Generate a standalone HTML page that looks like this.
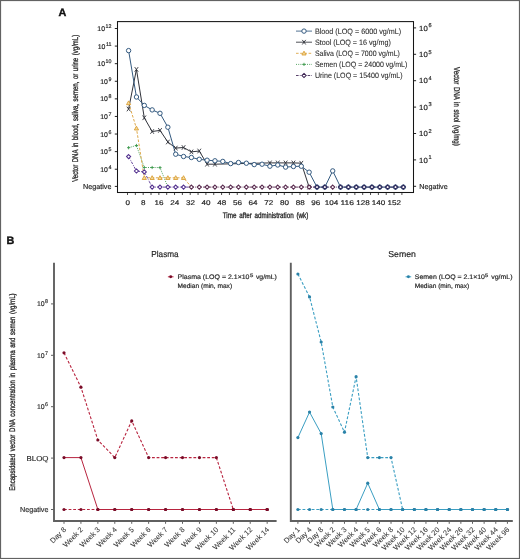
<!DOCTYPE html><html><head><meta charset="utf-8"><style>html,body{margin:0;padding:0;background:#fff;}svg{display:block;}text{font-family:"Liberation Sans", sans-serif;text-rendering:geometricPrecision;} .t{filter:grayscale(1);} .t text{stroke:#2a2a2a;stroke-width:0.18px;}</style></head><body>
<svg width="520" height="559" viewBox="0 0 520 559">
<rect x="0" y="0" width="520" height="559" fill="#fff"/>
<line x1="114.8" y1="28.5" x2="117.5" y2="28.5" stroke="#222" stroke-width="1"/>
<line x1="114.8" y1="46.09" x2="117.5" y2="46.09" stroke="#222" stroke-width="1"/>
<line x1="114.8" y1="63.68" x2="117.5" y2="63.68" stroke="#222" stroke-width="1"/>
<line x1="114.8" y1="81.27" x2="117.5" y2="81.27" stroke="#222" stroke-width="1"/>
<line x1="114.8" y1="98.86" x2="117.5" y2="98.86" stroke="#222" stroke-width="1"/>
<line x1="114.8" y1="116.45" x2="117.5" y2="116.45" stroke="#222" stroke-width="1"/>
<line x1="114.8" y1="134.04" x2="117.5" y2="134.04" stroke="#222" stroke-width="1"/>
<line x1="114.8" y1="151.63" x2="117.5" y2="151.63" stroke="#222" stroke-width="1"/>
<line x1="114.8" y1="169.22" x2="117.5" y2="169.22" stroke="#222" stroke-width="1"/>
<line x1="114.8" y1="186.4" x2="117.5" y2="186.4" stroke="#222" stroke-width="1"/>
<line x1="413.5" y1="27.9" x2="416.1" y2="27.9" stroke="#222" stroke-width="1"/>
<line x1="413.5" y1="54.3" x2="416.1" y2="54.3" stroke="#222" stroke-width="1"/>
<line x1="413.5" y1="80.7" x2="416.1" y2="80.7" stroke="#222" stroke-width="1"/>
<line x1="413.5" y1="107.1" x2="416.1" y2="107.1" stroke="#222" stroke-width="1"/>
<line x1="413.5" y1="133.5" x2="416.1" y2="133.5" stroke="#222" stroke-width="1"/>
<line x1="413.5" y1="159.9" x2="416.1" y2="159.9" stroke="#222" stroke-width="1"/>
<line x1="413.5" y1="186.3" x2="416.1" y2="186.3" stroke="#222" stroke-width="1"/>
<line x1="127.5" y1="192.5" x2="127.5" y2="195" stroke="#222" stroke-width="0.8"/>
<line x1="135.34" y1="192.5" x2="135.34" y2="195" stroke="#222" stroke-width="0.8"/>
<line x1="143.18" y1="192.5" x2="143.18" y2="195" stroke="#222" stroke-width="0.8"/>
<line x1="151.02" y1="192.5" x2="151.02" y2="195" stroke="#222" stroke-width="0.8"/>
<line x1="158.86" y1="192.5" x2="158.86" y2="195" stroke="#222" stroke-width="0.8"/>
<line x1="166.7" y1="192.5" x2="166.7" y2="195" stroke="#222" stroke-width="0.8"/>
<line x1="174.54" y1="192.5" x2="174.54" y2="195" stroke="#222" stroke-width="0.8"/>
<line x1="182.38" y1="192.5" x2="182.38" y2="195" stroke="#222" stroke-width="0.8"/>
<line x1="190.22" y1="192.5" x2="190.22" y2="195" stroke="#222" stroke-width="0.8"/>
<line x1="198.06" y1="192.5" x2="198.06" y2="195" stroke="#222" stroke-width="0.8"/>
<line x1="205.9" y1="192.5" x2="205.9" y2="195" stroke="#222" stroke-width="0.8"/>
<line x1="213.74" y1="192.5" x2="213.74" y2="195" stroke="#222" stroke-width="0.8"/>
<line x1="221.58" y1="192.5" x2="221.58" y2="195" stroke="#222" stroke-width="0.8"/>
<line x1="229.42" y1="192.5" x2="229.42" y2="195" stroke="#222" stroke-width="0.8"/>
<line x1="237.26" y1="192.5" x2="237.26" y2="195" stroke="#222" stroke-width="0.8"/>
<line x1="245.1" y1="192.5" x2="245.1" y2="195" stroke="#222" stroke-width="0.8"/>
<line x1="252.94" y1="192.5" x2="252.94" y2="195" stroke="#222" stroke-width="0.8"/>
<line x1="260.78" y1="192.5" x2="260.78" y2="195" stroke="#222" stroke-width="0.8"/>
<line x1="268.62" y1="192.5" x2="268.62" y2="195" stroke="#222" stroke-width="0.8"/>
<line x1="276.46" y1="192.5" x2="276.46" y2="195" stroke="#222" stroke-width="0.8"/>
<line x1="284.3" y1="192.5" x2="284.3" y2="195" stroke="#222" stroke-width="0.8"/>
<line x1="292.14" y1="192.5" x2="292.14" y2="195" stroke="#222" stroke-width="0.8"/>
<line x1="299.98" y1="192.5" x2="299.98" y2="195" stroke="#222" stroke-width="0.8"/>
<line x1="307.82" y1="192.5" x2="307.82" y2="195" stroke="#222" stroke-width="0.8"/>
<line x1="315.66" y1="192.5" x2="315.66" y2="195" stroke="#222" stroke-width="0.8"/>
<line x1="323.5" y1="192.5" x2="323.5" y2="195" stroke="#222" stroke-width="0.8"/>
<line x1="331.34" y1="192.5" x2="331.34" y2="195" stroke="#222" stroke-width="0.8"/>
<line x1="339.18" y1="192.5" x2="339.18" y2="195" stroke="#222" stroke-width="0.8"/>
<line x1="347.02" y1="192.5" x2="347.02" y2="195" stroke="#222" stroke-width="0.8"/>
<line x1="354.86" y1="192.5" x2="354.86" y2="195" stroke="#222" stroke-width="0.8"/>
<line x1="362.7" y1="192.5" x2="362.7" y2="195" stroke="#222" stroke-width="0.8"/>
<line x1="370.54" y1="192.5" x2="370.54" y2="195" stroke="#222" stroke-width="0.8"/>
<line x1="378.38" y1="192.5" x2="378.38" y2="195" stroke="#222" stroke-width="0.8"/>
<line x1="386.22" y1="192.5" x2="386.22" y2="195" stroke="#222" stroke-width="0.8"/>
<line x1="394.06" y1="192.5" x2="394.06" y2="195" stroke="#222" stroke-width="0.8"/>
<line x1="401.9" y1="192.5" x2="401.9" y2="195" stroke="#222" stroke-width="0.8"/>
<g fill="none" stroke-linejoin="round">
<polyline points="128.6,147.7 136.45,145.5 144.3,167.5 152.15,167.5 160,167.6 167.85,187.1" stroke="#3c984c" stroke-width="0.9" stroke-dasharray="1,1.2"/>
<polyline points="128.6,103 136.45,128.3 144.3,177.8 152.15,177.8 160,177.8 167.85,177.8 175.7,177.8 183.55,177.8 191.4,187.1" stroke="#d99e35" stroke-width="0.9" stroke-dasharray="2.6,1.6"/>
<polyline points="128.6,109 136.45,69.4 144.3,117.8 152.15,131.5 160,130.4 167.85,142 175.7,148.1 183.55,147.5 191.4,151.9 199.25,151 207.1,164.2 214.95,164.2 269.9,162.9 277.75,162.9 285.6,162.9 293.45,162.9 301.3,163.2 309.15,187.1" stroke="#30323a" stroke-width="1"/>
<polyline points="128.6,50.6 136.45,97 144.3,105.4 152.15,109.9 160,113.3 167.85,127.2 175.7,154.2 183.55,156.5 191.4,157.5 199.25,159.3 207.1,160.2 214.95,160.8 222.8,161.4 230.65,163.6 238.5,162.5 246.35,163.2 254.2,164.6 262.05,164.2 269.9,166.2 277.75,165 285.6,167.1 293.45,166.5 301.3,166.2 309.15,172.2 317,187.1 324.85,187.1 332.7,170.9 340.55,187.1 348.4,187.1 356.25,187.1 364.1,187.1 371.95,187.1 379.8,187.1 387.65,187.1 395.5,187.1 403.35,187.1" stroke="#345a80" stroke-width="1.0"/>
</g>
<path d="M127 147.7L130.2 147.7M128.6 146.1L128.6 149.3" stroke="#3c984c" stroke-width="0.9" fill="none"/>
<path d="M134.85 145.5L138.05 145.5M136.45 143.9L136.45 147.1" stroke="#3c984c" stroke-width="0.9" fill="none"/>
<path d="M142.7 167.5L145.9 167.5M144.3 165.9L144.3 169.1" stroke="#3c984c" stroke-width="0.9" fill="none"/>
<path d="M150.55 167.5L153.75 167.5M152.15 165.9L152.15 169.1" stroke="#3c984c" stroke-width="0.9" fill="none"/>
<path d="M158.4 167.6L161.6 167.6M160 166L160 169.2" stroke="#3c984c" stroke-width="0.9" fill="none"/>
<path d="M128.6 100.9L130.7 104.68L126.5 104.68Z" fill="#f6dc9c" stroke="#d99e35" stroke-width="0.9"/>
<path d="M136.45 126.2L138.55 129.98L134.35 129.98Z" fill="#f6dc9c" stroke="#d99e35" stroke-width="0.9"/>
<path d="M144.3 175.7L146.4 179.48L142.2 179.48Z" fill="#f6dc9c" stroke="#d99e35" stroke-width="0.9"/>
<path d="M152.15 175.7L154.25 179.48L150.05 179.48Z" fill="#f6dc9c" stroke="#d99e35" stroke-width="0.9"/>
<path d="M160 175.7L162.1 179.48L157.9 179.48Z" fill="#f6dc9c" stroke="#d99e35" stroke-width="0.9"/>
<path d="M167.85 175.7L169.95 179.48L165.75 179.48Z" fill="#f6dc9c" stroke="#d99e35" stroke-width="0.9"/>
<path d="M175.7 175.7L177.8 179.48L173.6 179.48Z" fill="#f6dc9c" stroke="#d99e35" stroke-width="0.9"/>
<path d="M183.55 175.7L185.65 179.48L181.45 179.48Z" fill="#f6dc9c" stroke="#d99e35" stroke-width="0.9"/>
<path d="M126.85 106.7L130.35 111.3M126.85 111.3L130.35 106.7" stroke="#30323a" stroke-width="0.9" fill="none"/>
<path d="M134.7 67.1L138.2 71.7M134.7 71.7L138.2 67.1" stroke="#30323a" stroke-width="0.9" fill="none"/>
<path d="M142.55 115.5L146.05 120.1M142.55 120.1L146.05 115.5" stroke="#30323a" stroke-width="0.9" fill="none"/>
<path d="M150.4 129.2L153.9 133.8M150.4 133.8L153.9 129.2" stroke="#30323a" stroke-width="0.9" fill="none"/>
<path d="M158.25 128.1L161.75 132.7M158.25 132.7L161.75 128.1" stroke="#30323a" stroke-width="0.9" fill="none"/>
<path d="M166.1 139.7L169.6 144.3M166.1 144.3L169.6 139.7" stroke="#30323a" stroke-width="0.9" fill="none"/>
<path d="M173.95 145.8L177.45 150.4M173.95 150.4L177.45 145.8" stroke="#30323a" stroke-width="0.9" fill="none"/>
<path d="M181.8 145.2L185.3 149.8M181.8 149.8L185.3 145.2" stroke="#30323a" stroke-width="0.9" fill="none"/>
<path d="M189.65 149.6L193.15 154.2M189.65 154.2L193.15 149.6" stroke="#30323a" stroke-width="0.9" fill="none"/>
<path d="M197.5 148.7L201 153.3M197.5 153.3L201 148.7" stroke="#30323a" stroke-width="0.9" fill="none"/>
<path d="M205.35 161.9L208.85 166.5M205.35 166.5L208.85 161.9" stroke="#30323a" stroke-width="0.9" fill="none"/>
<path d="M213.2 161.9L216.7 166.5M213.2 166.5L216.7 161.9" stroke="#30323a" stroke-width="0.9" fill="none"/>
<path d="M268.15 160.6L271.65 165.2M268.15 165.2L271.65 160.6" stroke="#30323a" stroke-width="0.9" fill="none"/>
<path d="M276 160.6L279.5 165.2M276 165.2L279.5 160.6" stroke="#30323a" stroke-width="0.9" fill="none"/>
<path d="M283.85 160.6L287.35 165.2M283.85 165.2L287.35 160.6" stroke="#30323a" stroke-width="0.9" fill="none"/>
<path d="M291.7 160.6L295.2 165.2M291.7 165.2L295.2 160.6" stroke="#30323a" stroke-width="0.9" fill="none"/>
<path d="M299.55 160.9L303.05 165.5M299.55 165.5L303.05 160.9" stroke="#30323a" stroke-width="0.9" fill="none"/>
<path d="M307.4 184.8L310.9 189.4M307.4 189.4L310.9 184.8" stroke="#30323a" stroke-width="0.9" fill="none"/>
<circle cx="128.6" cy="50.6" r="2.2" fill="#fff" stroke="#345a80" stroke-width="1.0"/>
<circle cx="136.45" cy="97" r="2.2" fill="#fff" stroke="#345a80" stroke-width="1.0"/>
<circle cx="144.3" cy="105.4" r="2.2" fill="#fff" stroke="#345a80" stroke-width="1.0"/>
<circle cx="152.15" cy="109.9" r="2.2" fill="#fff" stroke="#345a80" stroke-width="1.0"/>
<circle cx="160" cy="113.3" r="2.2" fill="#fff" stroke="#345a80" stroke-width="1.0"/>
<circle cx="167.85" cy="127.2" r="2.2" fill="#fff" stroke="#345a80" stroke-width="1.0"/>
<circle cx="175.7" cy="154.2" r="2.2" fill="#fff" stroke="#345a80" stroke-width="1.0"/>
<circle cx="183.55" cy="156.5" r="2.2" fill="#fff" stroke="#345a80" stroke-width="1.0"/>
<circle cx="191.4" cy="157.5" r="2.2" fill="#fff" stroke="#345a80" stroke-width="1.0"/>
<circle cx="199.25" cy="159.3" r="2.2" fill="#fff" stroke="#345a80" stroke-width="1.0"/>
<circle cx="207.1" cy="160.2" r="2.2" fill="#fff" stroke="#345a80" stroke-width="1.0"/>
<circle cx="214.95" cy="160.8" r="2.2" fill="#fff" stroke="#345a80" stroke-width="1.0"/>
<circle cx="222.8" cy="161.4" r="2.2" fill="#fff" stroke="#345a80" stroke-width="1.0"/>
<circle cx="230.65" cy="163.6" r="2.2" fill="#fff" stroke="#345a80" stroke-width="1.0"/>
<circle cx="238.5" cy="162.5" r="2.2" fill="#fff" stroke="#345a80" stroke-width="1.0"/>
<circle cx="246.35" cy="163.2" r="2.2" fill="#fff" stroke="#345a80" stroke-width="1.0"/>
<circle cx="254.2" cy="164.6" r="2.2" fill="#fff" stroke="#345a80" stroke-width="1.0"/>
<circle cx="262.05" cy="164.2" r="2.2" fill="#fff" stroke="#345a80" stroke-width="1.0"/>
<circle cx="269.9" cy="166.2" r="2.2" fill="#fff" stroke="#345a80" stroke-width="1.0"/>
<circle cx="277.75" cy="165" r="2.2" fill="#fff" stroke="#345a80" stroke-width="1.0"/>
<circle cx="285.6" cy="167.1" r="2.2" fill="#fff" stroke="#345a80" stroke-width="1.0"/>
<circle cx="293.45" cy="166.5" r="2.2" fill="#fff" stroke="#345a80" stroke-width="1.0"/>
<circle cx="301.3" cy="166.2" r="2.2" fill="#fff" stroke="#345a80" stroke-width="1.0"/>
<circle cx="309.15" cy="172.2" r="2.2" fill="#fff" stroke="#345a80" stroke-width="1.0"/>
<circle cx="317" cy="187.1" r="2.2" fill="#fff" stroke="#345a80" stroke-width="1.0"/>
<circle cx="324.85" cy="187.1" r="2.2" fill="#fff" stroke="#345a80" stroke-width="1.0"/>
<circle cx="332.7" cy="170.9" r="2.2" fill="#fff" stroke="#345a80" stroke-width="1.0"/>
<circle cx="340.55" cy="187.1" r="2.2" fill="#fff" stroke="#345a80" stroke-width="1.0"/>
<circle cx="348.4" cy="187.1" r="2.2" fill="#fff" stroke="#345a80" stroke-width="1.0"/>
<circle cx="356.25" cy="187.1" r="2.2" fill="#fff" stroke="#345a80" stroke-width="1.0"/>
<circle cx="364.1" cy="187.1" r="2.2" fill="#fff" stroke="#345a80" stroke-width="1.0"/>
<circle cx="371.95" cy="187.1" r="2.2" fill="#fff" stroke="#345a80" stroke-width="1.0"/>
<circle cx="379.8" cy="187.1" r="2.2" fill="#fff" stroke="#345a80" stroke-width="1.0"/>
<circle cx="387.65" cy="187.1" r="2.2" fill="#fff" stroke="#345a80" stroke-width="1.0"/>
<circle cx="395.5" cy="187.1" r="2.2" fill="#fff" stroke="#345a80" stroke-width="1.0"/>
<circle cx="403.35" cy="187.1" r="2.2" fill="#fff" stroke="#345a80" stroke-width="1.0"/>
<polyline points="128.6,156.6 136.45,171 144.3,171.9 152.15,187.1 160,187.1 167.85,187.1 175.7,187.1 183.55,187.1 191.4,187.1" fill="none" stroke="#52308e" stroke-width="0.9" stroke-dasharray="2.6,1.2,0.8,1.2"/>
<polyline points="191.4,187.1 199.25,187.1 207.1,187.1 214.95,187.1 222.8,187.1 230.65,187.1 238.5,187.1 246.35,187.1 254.2,187.1 262.05,187.1 269.9,187.1 277.75,187.1 285.6,187.1 293.45,187.1 301.3,187.1 309.15,187.1 317,187.1" fill="none" stroke="#5a2c50" stroke-width="0.9" stroke-dasharray="2.6,1.2,0.8,1.2"/>
<polyline points="309.15,187.1 317,187.1 324.85,187.1 332.7,187.1 340.55,187.1 348.4,187.1 356.25,187.1 364.1,187.1 371.95,187.1 379.8,187.1 387.65,187.1 395.5,187.1 403.35,187.1" fill="none" stroke="#2c2458" stroke-width="0.9" stroke-dasharray="2.6,1.2,0.8,1.2"/>
<path d="M128.6 154.55L130.65 156.6L128.6 158.65L126.55 156.6Z" fill="#fff" stroke="#52308e" stroke-width="1.05"/>
<path d="M136.45 168.95L138.5 171L136.45 173.05L134.4 171Z" fill="#fff" stroke="#52308e" stroke-width="1.05"/>
<path d="M144.3 169.85L146.35 171.9L144.3 173.95L142.25 171.9Z" fill="#fff" stroke="#52308e" stroke-width="1.05"/>
<path d="M152.15 185.05L154.2 187.1L152.15 189.15L150.1 187.1Z" fill="#fff" stroke="#52308e" stroke-width="1.05"/>
<path d="M160 185.05L162.05 187.1L160 189.15L157.95 187.1Z" fill="#fff" stroke="#52308e" stroke-width="1.05"/>
<path d="M167.85 185.05L169.9 187.1L167.85 189.15L165.8 187.1Z" fill="#fff" stroke="#52308e" stroke-width="1.05"/>
<path d="M175.7 185.05L177.75 187.1L175.7 189.15L173.65 187.1Z" fill="#fff" stroke="#52308e" stroke-width="1.05"/>
<path d="M183.55 185.05L185.6 187.1L183.55 189.15L181.5 187.1Z" fill="#fff" stroke="#52308e" stroke-width="1.05"/>
<path d="M191.4 185.05L193.45 187.1L191.4 189.15L189.35 187.1Z" fill="#fff" stroke="#5a2c50" stroke-width="1.05"/>
<path d="M199.25 185.05L201.3 187.1L199.25 189.15L197.2 187.1Z" fill="#fff" stroke="#5a2c50" stroke-width="1.05"/>
<path d="M207.1 185.05L209.15 187.1L207.1 189.15L205.05 187.1Z" fill="#fff" stroke="#5a2c50" stroke-width="1.05"/>
<path d="M214.95 185.05L217 187.1L214.95 189.15L212.9 187.1Z" fill="#fff" stroke="#5a2c50" stroke-width="1.05"/>
<path d="M222.8 185.05L224.85 187.1L222.8 189.15L220.75 187.1Z" fill="#fff" stroke="#5a2c50" stroke-width="1.05"/>
<path d="M230.65 185.05L232.7 187.1L230.65 189.15L228.6 187.1Z" fill="#fff" stroke="#5a2c50" stroke-width="1.05"/>
<path d="M238.5 185.05L240.55 187.1L238.5 189.15L236.45 187.1Z" fill="#fff" stroke="#5a2c50" stroke-width="1.05"/>
<path d="M246.35 185.05L248.4 187.1L246.35 189.15L244.3 187.1Z" fill="#fff" stroke="#5a2c50" stroke-width="1.05"/>
<path d="M254.2 185.05L256.25 187.1L254.2 189.15L252.15 187.1Z" fill="#fff" stroke="#5a2c50" stroke-width="1.05"/>
<path d="M262.05 185.05L264.1 187.1L262.05 189.15L260 187.1Z" fill="#fff" stroke="#5a2c50" stroke-width="1.05"/>
<path d="M269.9 185.05L271.95 187.1L269.9 189.15L267.85 187.1Z" fill="#fff" stroke="#5a2c50" stroke-width="1.05"/>
<path d="M277.75 185.05L279.8 187.1L277.75 189.15L275.7 187.1Z" fill="#fff" stroke="#5a2c50" stroke-width="1.05"/>
<path d="M285.6 185.05L287.65 187.1L285.6 189.15L283.55 187.1Z" fill="#fff" stroke="#5a2c50" stroke-width="1.05"/>
<path d="M293.45 185.05L295.5 187.1L293.45 189.15L291.4 187.1Z" fill="#fff" stroke="#5a2c50" stroke-width="1.05"/>
<path d="M301.3 185.05L303.35 187.1L301.3 189.15L299.25 187.1Z" fill="#fff" stroke="#5a2c50" stroke-width="1.05"/>
<path d="M309.15 185.05L311.2 187.1L309.15 189.15L307.1 187.1Z" fill="#fff" stroke="#5a2c50" stroke-width="1.05"/>
<path d="M317 185.05L319.05 187.1L317 189.15L314.95 187.1Z" fill="#fff" stroke="#2c2458" stroke-width="1.05"/>
<path d="M324.85 185.05L326.9 187.1L324.85 189.15L322.8 187.1Z" fill="#fff" stroke="#2c2458" stroke-width="1.05"/>
<path d="M332.7 185.05L334.75 187.1L332.7 189.15L330.65 187.1Z" fill="#fff" stroke="#5a2c50" stroke-width="1.05"/>
<path d="M340.55 185.05L342.6 187.1L340.55 189.15L338.5 187.1Z" fill="#fff" stroke="#2c2458" stroke-width="1.05"/>
<path d="M348.4 185.05L350.45 187.1L348.4 189.15L346.35 187.1Z" fill="#fff" stroke="#2c2458" stroke-width="1.05"/>
<path d="M356.25 185.05L358.3 187.1L356.25 189.15L354.2 187.1Z" fill="#fff" stroke="#2c2458" stroke-width="1.05"/>
<path d="M364.1 185.05L366.15 187.1L364.1 189.15L362.05 187.1Z" fill="#fff" stroke="#2c2458" stroke-width="1.05"/>
<path d="M371.95 185.05L374 187.1L371.95 189.15L369.9 187.1Z" fill="#fff" stroke="#2c2458" stroke-width="1.05"/>
<path d="M379.8 185.05L381.85 187.1L379.8 189.15L377.75 187.1Z" fill="#fff" stroke="#2c2458" stroke-width="1.05"/>
<path d="M387.65 185.05L389.7 187.1L387.65 189.15L385.6 187.1Z" fill="#fff" stroke="#2c2458" stroke-width="1.05"/>
<path d="M395.5 185.05L397.55 187.1L395.5 189.15L393.45 187.1Z" fill="#fff" stroke="#2c2458" stroke-width="1.05"/>
<path d="M403.35 185.05L405.4 187.1L403.35 189.15L401.3 187.1Z" fill="#fff" stroke="#2c2458" stroke-width="1.05"/>
<rect x="117.5" y="21.6" width="296" height="170.9" fill="none" stroke="#151515" stroke-width="1.05"/>
<line x1="296" y1="31.1" x2="312" y2="31.1" stroke="#345a80" stroke-width="0.85"/>
<circle cx="304" cy="31.1" r="2.2" fill="#fff" stroke="#345a80" stroke-width="1.0"/>
<line x1="296" y1="42.2" x2="312" y2="42.2" stroke="#30323a" stroke-width="0.85"/>
<path d="M302.25 39.9L305.75 44.5M302.25 44.5L305.75 39.9" stroke="#30323a" stroke-width="0.9" fill="none"/>
<line x1="296" y1="53.3" x2="312" y2="53.3" stroke="#d99e35" stroke-width="0.85" stroke-dasharray="2.6,1.6"/>
<path d="M304 51.2L306.1 54.98L301.9 54.98Z" fill="#f6dc9c" stroke="#d99e35" stroke-width="0.9"/>
<line x1="296" y1="64.4" x2="312" y2="64.4" stroke="#3c984c" stroke-width="0.85" stroke-dasharray="1,1.2"/>
<path d="M302.4 64.4L305.6 64.4M304 62.8L304 66" stroke="#3c984c" stroke-width="0.9" fill="none"/>
<line x1="296" y1="75.5" x2="312" y2="75.5" stroke="#3a2050" stroke-width="0.85" stroke-dasharray="2.6,1.2,0.8,1.2"/>
<path d="M304 73.45L306.05 75.5L304 77.55L301.95 75.5Z" fill="#fff" stroke="#3a2050" stroke-width="1.05"/>
<path d="M54 262.8V521H276.6" fill="none" stroke="#606060" stroke-width="1.9"/>
<path d="M290.8 262.8V521H512.8" fill="none" stroke="#606060" stroke-width="1.9"/>
<line x1="51" y1="303.9" x2="54" y2="303.9" stroke="#606060" stroke-width="1"/>
<line x1="51" y1="355.3" x2="54" y2="355.3" stroke="#606060" stroke-width="1"/>
<line x1="51" y1="406.7" x2="54" y2="406.7" stroke="#606060" stroke-width="1"/>
<line x1="51" y1="458.1" x2="54" y2="458.1" stroke="#606060" stroke-width="1"/>
<line x1="51" y1="509.5" x2="54" y2="509.5" stroke="#606060" stroke-width="1"/>
<polyline points="64,509.5 80.93,509.5 97.86,509.5 114.79,509.5 131.72,509.5 148.65,509.5 165.58,509.5 182.51,509.5 199.44,509.5 216.37,509.5 233.3,509.5 250.23,509.5 267.16,509.5" fill="none" stroke="#b8243f" stroke-width="1.1" stroke-dasharray="2.8,1.8"/>
<polyline points="64,352.8 80.93,387.2 97.86,440 114.79,457.6 131.72,420.9 148.65,457.6 165.58,457.6 182.51,457.6 199.44,457.6 216.37,457.6 233.3,509.5 250.23,509.5 267.16,509.5" fill="none" stroke="#b8243f" stroke-width="1.1" stroke-dasharray="2.8,1.8"/>
<polyline points="64,457.6 80.93,457.6 97.86,509.5 114.79,509.5 131.72,509.5 148.65,509.5 165.58,509.5 182.51,509.5 199.44,509.5 216.37,509.5 233.3,509.5 250.23,509.5 267.16,509.5" fill="none" stroke="#b8243f" stroke-width="1"/>
<circle cx="64" cy="509.5" r="1.6" fill="#7a0c28"/>
<circle cx="80.93" cy="509.5" r="1.6" fill="#7a0c28"/>
<circle cx="97.86" cy="509.5" r="1.6" fill="#7a0c28"/>
<circle cx="114.79" cy="509.5" r="1.6" fill="#7a0c28"/>
<circle cx="131.72" cy="509.5" r="1.6" fill="#7a0c28"/>
<circle cx="148.65" cy="509.5" r="1.6" fill="#7a0c28"/>
<circle cx="165.58" cy="509.5" r="1.6" fill="#7a0c28"/>
<circle cx="182.51" cy="509.5" r="1.6" fill="#7a0c28"/>
<circle cx="199.44" cy="509.5" r="1.6" fill="#7a0c28"/>
<circle cx="216.37" cy="509.5" r="1.6" fill="#7a0c28"/>
<circle cx="233.3" cy="509.5" r="1.6" fill="#7a0c28"/>
<circle cx="250.23" cy="509.5" r="1.6" fill="#7a0c28"/>
<circle cx="267.16" cy="509.5" r="1.6" fill="#7a0c28"/>
<circle cx="64" cy="352.8" r="1.6" fill="#7a0c28"/>
<circle cx="80.93" cy="387.2" r="1.6" fill="#7a0c28"/>
<circle cx="97.86" cy="440" r="1.6" fill="#7a0c28"/>
<circle cx="114.79" cy="457.6" r="1.6" fill="#7a0c28"/>
<circle cx="131.72" cy="420.9" r="1.6" fill="#7a0c28"/>
<circle cx="148.65" cy="457.6" r="1.6" fill="#7a0c28"/>
<circle cx="165.58" cy="457.6" r="1.6" fill="#7a0c28"/>
<circle cx="182.51" cy="457.6" r="1.6" fill="#7a0c28"/>
<circle cx="199.44" cy="457.6" r="1.6" fill="#7a0c28"/>
<circle cx="216.37" cy="457.6" r="1.6" fill="#7a0c28"/>
<circle cx="233.3" cy="509.5" r="1.6" fill="#7a0c28"/>
<circle cx="250.23" cy="509.5" r="1.6" fill="#7a0c28"/>
<circle cx="267.16" cy="509.5" r="1.6" fill="#7a0c28"/>
<circle cx="64" cy="457.6" r="1.6" fill="#7a0c28"/>
<circle cx="80.93" cy="457.6" r="1.6" fill="#7a0c28"/>
<circle cx="97.86" cy="509.5" r="1.6" fill="#7a0c28"/>
<circle cx="114.79" cy="509.5" r="1.6" fill="#7a0c28"/>
<circle cx="131.72" cy="509.5" r="1.6" fill="#7a0c28"/>
<circle cx="148.65" cy="509.5" r="1.6" fill="#7a0c28"/>
<circle cx="165.58" cy="509.5" r="1.6" fill="#7a0c28"/>
<circle cx="182.51" cy="509.5" r="1.6" fill="#7a0c28"/>
<circle cx="199.44" cy="509.5" r="1.6" fill="#7a0c28"/>
<circle cx="216.37" cy="509.5" r="1.6" fill="#7a0c28"/>
<circle cx="233.3" cy="509.5" r="1.6" fill="#7a0c28"/>
<circle cx="250.23" cy="509.5" r="1.6" fill="#7a0c28"/>
<circle cx="267.16" cy="509.5" r="1.6" fill="#7a0c28"/>
<line x1="64" y1="521" x2="64" y2="523.8" stroke="#606060" stroke-width="1"/>
<line x1="80.93" y1="521" x2="80.93" y2="523.8" stroke="#606060" stroke-width="1"/>
<line x1="97.86" y1="521" x2="97.86" y2="523.8" stroke="#606060" stroke-width="1"/>
<line x1="114.79" y1="521" x2="114.79" y2="523.8" stroke="#606060" stroke-width="1"/>
<line x1="131.72" y1="521" x2="131.72" y2="523.8" stroke="#606060" stroke-width="1"/>
<line x1="148.65" y1="521" x2="148.65" y2="523.8" stroke="#606060" stroke-width="1"/>
<line x1="165.58" y1="521" x2="165.58" y2="523.8" stroke="#606060" stroke-width="1"/>
<line x1="182.51" y1="521" x2="182.51" y2="523.8" stroke="#606060" stroke-width="1"/>
<line x1="199.44" y1="521" x2="199.44" y2="523.8" stroke="#606060" stroke-width="1"/>
<line x1="216.37" y1="521" x2="216.37" y2="523.8" stroke="#606060" stroke-width="1"/>
<line x1="233.3" y1="521" x2="233.3" y2="523.8" stroke="#606060" stroke-width="1"/>
<line x1="250.23" y1="521" x2="250.23" y2="523.8" stroke="#606060" stroke-width="1"/>
<line x1="267.16" y1="521" x2="267.16" y2="523.8" stroke="#606060" stroke-width="1"/>
<polyline points="297.9,509.5 309.54,509.5 321.18,509.5 332.82,509.5 344.46,509.5 356.1,509.5 367.74,509.5 379.38,509.5 391.02,509.5 402.66,509.5 414.3,509.5 425.94,509.5 437.58,509.5 449.22,509.5 460.86,509.5 472.5,509.5 484.14,509.5 495.78,509.5 507.42,509.5" fill="none" stroke="#3a9ec2" stroke-width="1.1" stroke-dasharray="2.8,1.8"/>
<polyline points="297.9,274 309.54,296.9 321.18,342 332.82,407 344.46,432.2 356.1,376.7 367.74,457.6 379.38,457.6 391.02,457.6 402.66,509.5 414.3,509.5 425.94,509.5 437.58,509.5 449.22,509.5 460.86,509.5 472.5,509.5 484.14,509.5 495.78,509.5 507.42,509.5" fill="none" stroke="#3a9ec2" stroke-width="1.1" stroke-dasharray="2.8,1.8"/>
<polyline points="297.9,437.6 309.54,412.1 321.18,433.6 332.82,509.5 344.46,509.5 356.1,509.5 367.74,483.2 379.38,509.5 391.02,509.5 402.66,509.5 414.3,509.5 425.94,509.5 437.58,509.5 449.22,509.5 460.86,509.5 472.5,509.5 484.14,509.5 495.78,509.5 507.42,509.5" fill="none" stroke="#3a9ec2" stroke-width="1"/>
<circle cx="297.9" cy="509.5" r="1.6" fill="#2a82a8"/>
<circle cx="309.54" cy="509.5" r="1.6" fill="#2a82a8"/>
<circle cx="321.18" cy="509.5" r="1.6" fill="#2a82a8"/>
<circle cx="332.82" cy="509.5" r="1.6" fill="#2a82a8"/>
<circle cx="344.46" cy="509.5" r="1.6" fill="#2a82a8"/>
<circle cx="356.1" cy="509.5" r="1.6" fill="#2a82a8"/>
<circle cx="367.74" cy="509.5" r="1.6" fill="#2a82a8"/>
<circle cx="379.38" cy="509.5" r="1.6" fill="#2a82a8"/>
<circle cx="391.02" cy="509.5" r="1.6" fill="#2a82a8"/>
<circle cx="402.66" cy="509.5" r="1.6" fill="#2a82a8"/>
<circle cx="414.3" cy="509.5" r="1.6" fill="#2a82a8"/>
<circle cx="425.94" cy="509.5" r="1.6" fill="#2a82a8"/>
<circle cx="437.58" cy="509.5" r="1.6" fill="#2a82a8"/>
<circle cx="449.22" cy="509.5" r="1.6" fill="#2a82a8"/>
<circle cx="460.86" cy="509.5" r="1.6" fill="#2a82a8"/>
<circle cx="472.5" cy="509.5" r="1.6" fill="#2a82a8"/>
<circle cx="484.14" cy="509.5" r="1.6" fill="#2a82a8"/>
<circle cx="495.78" cy="509.5" r="1.6" fill="#2a82a8"/>
<circle cx="507.42" cy="509.5" r="1.6" fill="#2a82a8"/>
<circle cx="297.9" cy="274" r="1.6" fill="#2a82a8"/>
<circle cx="309.54" cy="296.9" r="1.6" fill="#2a82a8"/>
<circle cx="321.18" cy="342" r="1.6" fill="#2a82a8"/>
<circle cx="332.82" cy="407" r="1.6" fill="#2a82a8"/>
<circle cx="344.46" cy="432.2" r="1.6" fill="#2a82a8"/>
<circle cx="356.1" cy="376.7" r="1.6" fill="#2a82a8"/>
<circle cx="367.74" cy="457.6" r="1.6" fill="#2a82a8"/>
<circle cx="379.38" cy="457.6" r="1.6" fill="#2a82a8"/>
<circle cx="391.02" cy="457.6" r="1.6" fill="#2a82a8"/>
<circle cx="402.66" cy="509.5" r="1.6" fill="#2a82a8"/>
<circle cx="414.3" cy="509.5" r="1.6" fill="#2a82a8"/>
<circle cx="425.94" cy="509.5" r="1.6" fill="#2a82a8"/>
<circle cx="437.58" cy="509.5" r="1.6" fill="#2a82a8"/>
<circle cx="449.22" cy="509.5" r="1.6" fill="#2a82a8"/>
<circle cx="460.86" cy="509.5" r="1.6" fill="#2a82a8"/>
<circle cx="472.5" cy="509.5" r="1.6" fill="#2a82a8"/>
<circle cx="484.14" cy="509.5" r="1.6" fill="#2a82a8"/>
<circle cx="495.78" cy="509.5" r="1.6" fill="#2a82a8"/>
<circle cx="507.42" cy="509.5" r="1.6" fill="#2a82a8"/>
<circle cx="297.9" cy="437.6" r="1.6" fill="#2a82a8"/>
<circle cx="309.54" cy="412.1" r="1.6" fill="#2a82a8"/>
<circle cx="321.18" cy="433.6" r="1.6" fill="#2a82a8"/>
<circle cx="332.82" cy="509.5" r="1.6" fill="#2a82a8"/>
<circle cx="344.46" cy="509.5" r="1.6" fill="#2a82a8"/>
<circle cx="356.1" cy="509.5" r="1.6" fill="#2a82a8"/>
<circle cx="367.74" cy="483.2" r="1.6" fill="#2a82a8"/>
<circle cx="379.38" cy="509.5" r="1.6" fill="#2a82a8"/>
<circle cx="391.02" cy="509.5" r="1.6" fill="#2a82a8"/>
<circle cx="402.66" cy="509.5" r="1.6" fill="#2a82a8"/>
<circle cx="414.3" cy="509.5" r="1.6" fill="#2a82a8"/>
<circle cx="425.94" cy="509.5" r="1.6" fill="#2a82a8"/>
<circle cx="437.58" cy="509.5" r="1.6" fill="#2a82a8"/>
<circle cx="449.22" cy="509.5" r="1.6" fill="#2a82a8"/>
<circle cx="460.86" cy="509.5" r="1.6" fill="#2a82a8"/>
<circle cx="472.5" cy="509.5" r="1.6" fill="#2a82a8"/>
<circle cx="484.14" cy="509.5" r="1.6" fill="#2a82a8"/>
<circle cx="495.78" cy="509.5" r="1.6" fill="#2a82a8"/>
<circle cx="507.42" cy="509.5" r="1.6" fill="#2a82a8"/>
<line x1="297.9" y1="521" x2="297.9" y2="523.8" stroke="#606060" stroke-width="1"/>
<line x1="309.54" y1="521" x2="309.54" y2="523.8" stroke="#606060" stroke-width="1"/>
<line x1="321.18" y1="521" x2="321.18" y2="523.8" stroke="#606060" stroke-width="1"/>
<line x1="332.82" y1="521" x2="332.82" y2="523.8" stroke="#606060" stroke-width="1"/>
<line x1="344.46" y1="521" x2="344.46" y2="523.8" stroke="#606060" stroke-width="1"/>
<line x1="356.1" y1="521" x2="356.1" y2="523.8" stroke="#606060" stroke-width="1"/>
<line x1="367.74" y1="521" x2="367.74" y2="523.8" stroke="#606060" stroke-width="1"/>
<line x1="379.38" y1="521" x2="379.38" y2="523.8" stroke="#606060" stroke-width="1"/>
<line x1="391.02" y1="521" x2="391.02" y2="523.8" stroke="#606060" stroke-width="1"/>
<line x1="402.66" y1="521" x2="402.66" y2="523.8" stroke="#606060" stroke-width="1"/>
<line x1="414.3" y1="521" x2="414.3" y2="523.8" stroke="#606060" stroke-width="1"/>
<line x1="425.94" y1="521" x2="425.94" y2="523.8" stroke="#606060" stroke-width="1"/>
<line x1="437.58" y1="521" x2="437.58" y2="523.8" stroke="#606060" stroke-width="1"/>
<line x1="449.22" y1="521" x2="449.22" y2="523.8" stroke="#606060" stroke-width="1"/>
<line x1="460.86" y1="521" x2="460.86" y2="523.8" stroke="#606060" stroke-width="1"/>
<line x1="472.5" y1="521" x2="472.5" y2="523.8" stroke="#606060" stroke-width="1"/>
<line x1="484.14" y1="521" x2="484.14" y2="523.8" stroke="#606060" stroke-width="1"/>
<line x1="495.78" y1="521" x2="495.78" y2="523.8" stroke="#606060" stroke-width="1"/>
<line x1="507.42" y1="521" x2="507.42" y2="523.8" stroke="#606060" stroke-width="1"/>
<line x1="167.9" y1="276.8" x2="173.5" y2="276.8" stroke="#b8243f" stroke-width="1"/>
<circle cx="170.7" cy="276.8" r="1.45" fill="#7a0c28"/>
<line x1="405.6" y1="276.8" x2="411.2" y2="276.8" stroke="#3a9ec2" stroke-width="1"/>
<circle cx="408.4" cy="276.8" r="1.45" fill="#2a82a8"/>
<rect x="0.5" y="0.5" width="519" height="558" fill="none" stroke="#626262" stroke-width="1.2"/>
<g class="t">
<text x="58.6" y="15.9" font-size="10.8" font-weight="bold" fill="#111" style="stroke:#111;stroke-width:0.4px">A</text>
<text x="111.4" y="31" font-size="6.9" text-anchor="end" fill="#222">10<tspan font-size="5.3" dx="0.5" dy="-3.0">12</tspan></text>
<text x="111.4" y="48.59" font-size="6.9" text-anchor="end" fill="#222">10<tspan font-size="5.3" dx="0.5" dy="-3.0">11</tspan></text>
<text x="111.4" y="66.18" font-size="6.9" text-anchor="end" fill="#222">10<tspan font-size="5.3" dx="0.5" dy="-3.0">10</tspan></text>
<text x="111.4" y="83.77" font-size="6.9" text-anchor="end" fill="#222">10<tspan font-size="5.3" dx="0.5" dy="-3.0">9</tspan></text>
<text x="111.4" y="101.36" font-size="6.9" text-anchor="end" fill="#222">10<tspan font-size="5.3" dx="0.5" dy="-3.0">8</tspan></text>
<text x="111.4" y="118.95" font-size="6.9" text-anchor="end" fill="#222">10<tspan font-size="5.3" dx="0.5" dy="-3.0">7</tspan></text>
<text x="111.4" y="136.54" font-size="6.9" text-anchor="end" fill="#222">10<tspan font-size="5.3" dx="0.5" dy="-3.0">6</tspan></text>
<text x="111.4" y="154.13" font-size="6.9" text-anchor="end" fill="#222">10<tspan font-size="5.3" dx="0.5" dy="-3.0">5</tspan></text>
<text x="111.4" y="171.72" font-size="6.9" text-anchor="end" fill="#222">10<tspan font-size="5.3" dx="0.5" dy="-3.0">4</tspan></text>
<text x="111.4" y="189" font-size="7.2" text-anchor="end" fill="#222">Negative</text>
<text x="419.1" y="30.6" font-size="7.4" textLength="8.6" lengthAdjust="spacingAndGlyphs" fill="#222">10</text>
<text x="428.5" y="27.2" font-size="5.6" fill="#222">6</text>
<text x="419.1" y="57" font-size="7.4" textLength="8.6" lengthAdjust="spacingAndGlyphs" fill="#222">10</text>
<text x="428.5" y="53.6" font-size="5.6" fill="#222">5</text>
<text x="419.1" y="83.4" font-size="7.4" textLength="8.6" lengthAdjust="spacingAndGlyphs" fill="#222">10</text>
<text x="428.5" y="80" font-size="5.6" fill="#222">4</text>
<text x="419.1" y="109.8" font-size="7.4" textLength="8.6" lengthAdjust="spacingAndGlyphs" fill="#222">10</text>
<text x="428.5" y="106.4" font-size="5.6" fill="#222">3</text>
<text x="419.1" y="136.2" font-size="7.4" textLength="8.6" lengthAdjust="spacingAndGlyphs" fill="#222">10</text>
<text x="428.5" y="132.8" font-size="5.6" fill="#222">2</text>
<text x="419.1" y="162.6" font-size="7.4" textLength="8.6" lengthAdjust="spacingAndGlyphs" fill="#222">10</text>
<text x="428.5" y="159.2" font-size="5.6" fill="#222">1</text>
<text x="419.3" y="188.9" font-size="7.2" fill="#222">Negative</text>
<text x="127.7" y="204.6" font-size="6.8" text-anchor="middle" textLength="4.5" lengthAdjust="spacingAndGlyphs" fill="#222">0</text>
<text x="143.38" y="204.6" font-size="6.8" text-anchor="middle" textLength="4.5" lengthAdjust="spacingAndGlyphs" fill="#222">8</text>
<text x="159.06" y="204.6" font-size="6.8" text-anchor="middle" textLength="9" lengthAdjust="spacingAndGlyphs" fill="#222">16</text>
<text x="174.74" y="204.6" font-size="6.8" text-anchor="middle" textLength="9" lengthAdjust="spacingAndGlyphs" fill="#222">24</text>
<text x="190.42" y="204.6" font-size="6.8" text-anchor="middle" textLength="9" lengthAdjust="spacingAndGlyphs" fill="#222">32</text>
<text x="206.1" y="204.6" font-size="6.8" text-anchor="middle" textLength="9" lengthAdjust="spacingAndGlyphs" fill="#222">40</text>
<text x="221.78" y="204.6" font-size="6.8" text-anchor="middle" textLength="9" lengthAdjust="spacingAndGlyphs" fill="#222">48</text>
<text x="237.46" y="204.6" font-size="6.8" text-anchor="middle" textLength="9" lengthAdjust="spacingAndGlyphs" fill="#222">56</text>
<text x="253.14" y="204.6" font-size="6.8" text-anchor="middle" textLength="9" lengthAdjust="spacingAndGlyphs" fill="#222">64</text>
<text x="268.82" y="204.6" font-size="6.8" text-anchor="middle" textLength="9" lengthAdjust="spacingAndGlyphs" fill="#222">72</text>
<text x="284.5" y="204.6" font-size="6.8" text-anchor="middle" textLength="9" lengthAdjust="spacingAndGlyphs" fill="#222">80</text>
<text x="300.18" y="204.6" font-size="6.8" text-anchor="middle" textLength="9" lengthAdjust="spacingAndGlyphs" fill="#222">88</text>
<text x="315.86" y="204.6" font-size="6.8" text-anchor="middle" textLength="9" lengthAdjust="spacingAndGlyphs" fill="#222">96</text>
<text x="331.54" y="204.6" font-size="6.8" text-anchor="middle" textLength="13.5" lengthAdjust="spacingAndGlyphs" fill="#222">104</text>
<text x="347.22" y="204.6" font-size="6.8" text-anchor="middle" textLength="13.5" lengthAdjust="spacingAndGlyphs" fill="#222">116</text>
<text x="362.9" y="204.6" font-size="6.8" text-anchor="middle" textLength="13.5" lengthAdjust="spacingAndGlyphs" fill="#222">128</text>
<text x="378.58" y="204.6" font-size="6.8" text-anchor="middle" textLength="13.5" lengthAdjust="spacingAndGlyphs" fill="#222">140</text>
<text x="394.26" y="204.6" font-size="6.8" text-anchor="middle" textLength="13.5" lengthAdjust="spacingAndGlyphs" fill="#222">152</text>
<text transform="translate(77.6,108.35) rotate(-90)" font-size="8.4" text-anchor="middle" textLength="147" lengthAdjust="spacingAndGlyphs" fill="#222" style="stroke-width:0.32px;word-spacing:1.3px">Vector DNA in blood, saliva, semen, or urine (vg/mL)</text>
<text transform="translate(453.8,106.35) rotate(90)" font-size="8.4" text-anchor="middle" textLength="78.7" lengthAdjust="spacingAndGlyphs" fill="#222" style="stroke-width:0.32px;word-spacing:1.3px">Vector DNA in stool (vg/mg)</text>
<text x="222.7" y="217.7" font-size="8.1" textLength="85.6" lengthAdjust="spacingAndGlyphs" fill="#222" style="stroke-width:0.32px;word-spacing:1.3px">Time after administration (wk)</text>
<text x="314.9" y="33.9" font-size="7.8" textLength="86.3" lengthAdjust="spacingAndGlyphs" fill="#2a2a2a" style="stroke-width:0.08px">Blood (LOQ = 6000 vg/mL)</text>
<text x="314.9" y="45" font-size="7.8" textLength="76" lengthAdjust="spacingAndGlyphs" fill="#2a2a2a" style="stroke-width:0.08px">Stool (LOQ = 16 vg/mg)</text>
<text x="314.9" y="56.1" font-size="7.8" textLength="85" lengthAdjust="spacingAndGlyphs" fill="#2a2a2a" style="stroke-width:0.08px">Saliva (LOQ = 7000 vg/mL)</text>
<text x="314.9" y="67.2" font-size="7.8" textLength="92.4" lengthAdjust="spacingAndGlyphs" fill="#2a2a2a" style="stroke-width:0.08px">Semen (LOQ = 24000 vg/mL)</text>
<text x="314.9" y="78.3" font-size="7.8" textLength="87.7" lengthAdjust="spacingAndGlyphs" fill="#2a2a2a" style="stroke-width:0.08px">Urine (LOQ = 15400 vg/mL)</text>
<text x="6.5" y="243.9" font-size="10.8" font-weight="bold" fill="#111" style="stroke:#111;stroke-width:0.4px">B</text>
<text x="47.9" y="306.4" font-size="6.9" text-anchor="end" fill="#333">10<tspan font-size="5.3" dx="0.4" dy="-3.0">8</tspan></text>
<text x="47.9" y="357.8" font-size="6.9" text-anchor="end" fill="#333">10<tspan font-size="5.3" dx="0.4" dy="-3.0">7</tspan></text>
<text x="47.9" y="409.2" font-size="6.9" text-anchor="end" fill="#333">10<tspan font-size="5.3" dx="0.4" dy="-3.0">6</tspan></text>
<text x="48.5" y="460.7" font-size="7.2" text-anchor="end" textLength="22" lengthAdjust="spacingAndGlyphs" fill="#333">BLOQ</text>
<text x="48.4" y="512.1" font-size="7.2" text-anchor="end" fill="#333">Negative</text>
<text transform="translate(15.1,392.1) rotate(-90)" font-size="8.2" text-anchor="middle" textLength="197.4" lengthAdjust="spacingAndGlyphs" fill="#222" style="stroke-width:0.32px;word-spacing:1.3px">Encapsidated vector DNA concentration in plasma and semen (vg/mL)</text>
<text x="151.3" y="256.9" font-size="8.6" textLength="27.3" lengthAdjust="spacingAndGlyphs" fill="#222">Plasma</text>
<text x="388.3" y="257.0" font-size="8.6" textLength="27.6" lengthAdjust="spacingAndGlyphs" fill="#222">Semen</text>
<text transform="translate(66.6,530.2) rotate(-45)" font-size="7.4" text-anchor="end" fill="#333" style="stroke-width:0.05px">Day 8</text>
<text transform="translate(83.53,530.2) rotate(-45)" font-size="7.4" text-anchor="end" fill="#333" style="stroke-width:0.05px">Week 2</text>
<text transform="translate(100.46,530.2) rotate(-45)" font-size="7.4" text-anchor="end" fill="#333" style="stroke-width:0.05px">Week 3</text>
<text transform="translate(117.39,530.2) rotate(-45)" font-size="7.4" text-anchor="end" fill="#333" style="stroke-width:0.05px">Week 4</text>
<text transform="translate(134.32,530.2) rotate(-45)" font-size="7.4" text-anchor="end" fill="#333" style="stroke-width:0.05px">Week 5</text>
<text transform="translate(151.25,530.2) rotate(-45)" font-size="7.4" text-anchor="end" fill="#333" style="stroke-width:0.05px">Week 6</text>
<text transform="translate(168.18,530.2) rotate(-45)" font-size="7.4" text-anchor="end" fill="#333" style="stroke-width:0.05px">Week 7</text>
<text transform="translate(185.11,530.2) rotate(-45)" font-size="7.4" text-anchor="end" fill="#333" style="stroke-width:0.05px">Week 8</text>
<text transform="translate(202.04,530.2) rotate(-45)" font-size="7.4" text-anchor="end" fill="#333" style="stroke-width:0.05px">Week 9</text>
<text transform="translate(218.97,530.2) rotate(-45)" font-size="7.4" text-anchor="end" fill="#333" style="stroke-width:0.05px">Week 10</text>
<text transform="translate(235.9,530.2) rotate(-45)" font-size="7.4" text-anchor="end" fill="#333" style="stroke-width:0.05px">Week 11</text>
<text transform="translate(252.83,530.2) rotate(-45)" font-size="7.4" text-anchor="end" fill="#333" style="stroke-width:0.05px">Week 12</text>
<text transform="translate(269.76,530.2) rotate(-45)" font-size="7.4" text-anchor="end" fill="#333" style="stroke-width:0.05px">Week 14</text>
<text transform="translate(300.5,530.2) rotate(-45)" font-size="7.4" text-anchor="end" fill="#333" style="stroke-width:0.05px">Day 1</text>
<text transform="translate(312.14,530.2) rotate(-45)" font-size="7.4" text-anchor="end" fill="#333" style="stroke-width:0.05px">Day 4</text>
<text transform="translate(323.78,530.2) rotate(-45)" font-size="7.4" text-anchor="end" fill="#333" style="stroke-width:0.05px">Day 8</text>
<text transform="translate(335.42,530.2) rotate(-45)" font-size="7.4" text-anchor="end" fill="#333" style="stroke-width:0.05px">Week 2</text>
<text transform="translate(347.06,530.2) rotate(-45)" font-size="7.4" text-anchor="end" fill="#333" style="stroke-width:0.05px">Week 3</text>
<text transform="translate(358.7,530.2) rotate(-45)" font-size="7.4" text-anchor="end" fill="#333" style="stroke-width:0.05px">Week 4</text>
<text transform="translate(370.34,530.2) rotate(-45)" font-size="7.4" text-anchor="end" fill="#333" style="stroke-width:0.05px">Week 5</text>
<text transform="translate(381.98,530.2) rotate(-45)" font-size="7.4" text-anchor="end" fill="#333" style="stroke-width:0.05px">Week 6</text>
<text transform="translate(393.62,530.2) rotate(-45)" font-size="7.4" text-anchor="end" fill="#333" style="stroke-width:0.05px">Week 8</text>
<text transform="translate(405.26,530.2) rotate(-45)" font-size="7.4" text-anchor="end" fill="#333" style="stroke-width:0.05px">Week 10</text>
<text transform="translate(416.9,530.2) rotate(-45)" font-size="7.4" text-anchor="end" fill="#333" style="stroke-width:0.05px">Week 12</text>
<text transform="translate(428.54,530.2) rotate(-45)" font-size="7.4" text-anchor="end" fill="#333" style="stroke-width:0.05px">Week 16</text>
<text transform="translate(440.18,530.2) rotate(-45)" font-size="7.4" text-anchor="end" fill="#333" style="stroke-width:0.05px">Week 20</text>
<text transform="translate(451.82,530.2) rotate(-45)" font-size="7.4" text-anchor="end" fill="#333" style="stroke-width:0.05px">Week 24</text>
<text transform="translate(463.46,530.2) rotate(-45)" font-size="7.4" text-anchor="end" fill="#333" style="stroke-width:0.05px">Week 26</text>
<text transform="translate(475.1,530.2) rotate(-45)" font-size="7.4" text-anchor="end" fill="#333" style="stroke-width:0.05px">Week 32</text>
<text transform="translate(486.74,530.2) rotate(-45)" font-size="7.4" text-anchor="end" fill="#333" style="stroke-width:0.05px">Week 40</text>
<text transform="translate(498.38,530.2) rotate(-45)" font-size="7.4" text-anchor="end" fill="#333" style="stroke-width:0.05px">Week 44</text>
<text transform="translate(510.02,530.2) rotate(-45)" font-size="7.4" text-anchor="end" fill="#333" style="stroke-width:0.05px">Week 96</text>
<text x="177.6" y="279.1" font-size="6.6" textLength="71.9" lengthAdjust="spacingAndGlyphs" fill="#222">Plasma (LOQ = 2.1×10</text>
<text x="250" y="276.5" font-size="4.8" textLength="3.3" lengthAdjust="spacingAndGlyphs" fill="#222">5</text>
<text x="255.9" y="279.1" font-size="6.6" textLength="21" lengthAdjust="spacingAndGlyphs" fill="#222">vg/mL)</text>
<text x="177.5" y="287.5" font-size="6.6" fill="#222">Median (min, max)</text>
<text x="414.8" y="279.1" font-size="6.6" textLength="70.1" lengthAdjust="spacingAndGlyphs" fill="#222">Semen (LOQ = 2.1×10</text>
<text x="485.1" y="276.5" font-size="4.8" textLength="3.2" lengthAdjust="spacingAndGlyphs" fill="#222">5</text>
<text x="491.2" y="279.1" font-size="6.6" textLength="21.4" lengthAdjust="spacingAndGlyphs" fill="#222">vg/mL)</text>
<text x="414.7" y="287.5" font-size="6.6" fill="#222">Median (min, max)</text>
</g>
</svg></body></html>
